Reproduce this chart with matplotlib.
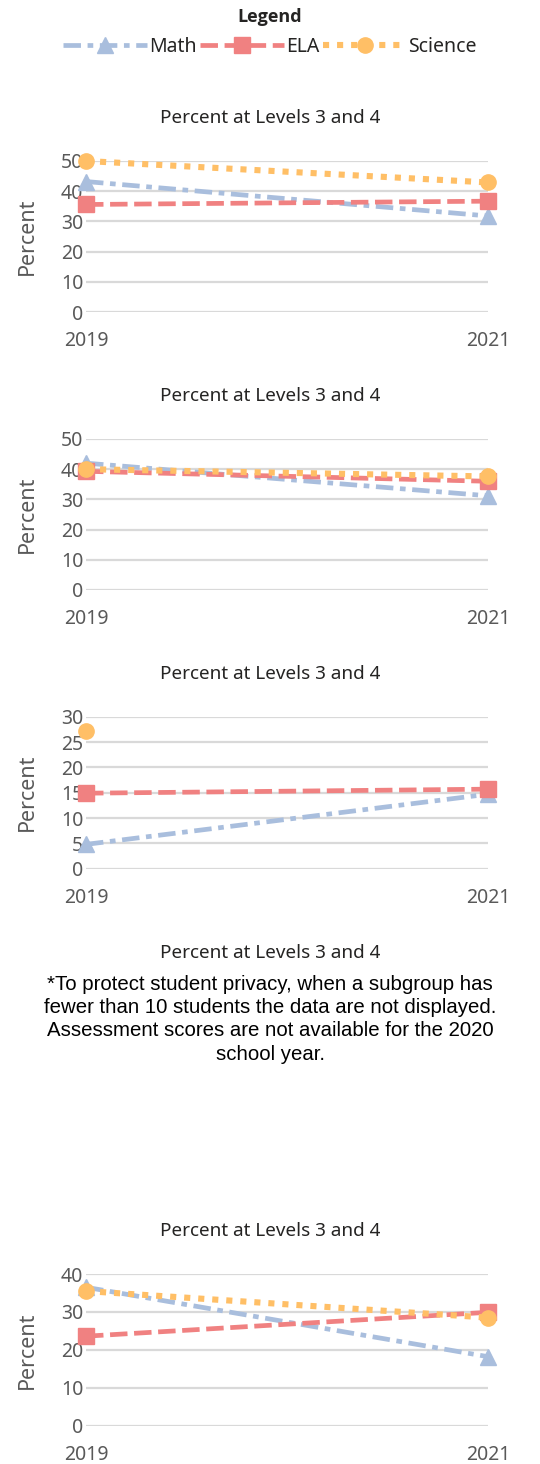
import matplotlib
matplotlib.use("Agg")
import matplotlib.pyplot as plt
from matplotlib.lines import Line2D

# ------------------------------------------------------------
# Donnees
# ------------------------------------------------------------
annees = [2019, 2021]
titre = "Percent at Levels 3 and 4"

math_1 = [43.2, 31.8]
ela_1 = [35.6, 36.7]
sci_1 = [50.0, 42.9]

math_2 = [42.0, 31.2]
ela_2 = [39.3, 36.0]
sci_2 = [40.0, 37.6]

math_3 = [4.8, 14.7]
ela_3 = [14.9, 15.7]
sci_3 = [27.2, None]

math_5 = [36.5, 18.2]
ela_5 = [23.6, 29.9]
sci_5 = [35.5, 28.5]

note = ("*To protect student privacy, when a subgroup has\n"
        "fewer than 10 students the data are not displayed.\n"
        "Assessment scores are not available for the 2020\n"
        "school year.")

# ------------------------------------------------------------
# Style
# ------------------------------------------------------------
W, H = 540, 1464
DPI = 100
plt.rcParams["font.family"] = ["Noto Sans", "DejaVu Sans"]

c_math = "#a9bedd"
c_ela = "#f08181"
c_sci = "#ffbf66"
c_grid = "#d9d9d9"
c_tick = "#595959"

styles = {
    "Math": dict(color=c_math, ls=(0, (3.7, 1.4, 1.2, 1.4)), marker="^", ms=12, lw=3.4),
    "ELA": dict(color=c_ela, ls=(0, (3.7, 1.4)), marker="s", ms=11.5, lw=3.4),
    "Science": dict(color=c_sci, ls=(0, (1.0, 1.3)), marker="o", ms=11, lw=4.4),
}

fig = plt.figure(figsize=(W / DPI, H / DPI), dpi=DPI)


def px_axes(x0, x1, ytop, ybot):
    return fig.add_axes([x0 / W, 1 - ybot / H, (x1 - x0) / W, (ybot - ytop) / H])


def panel(ytop, ybot, ymax, step, series):
    ax = px_axes(86, 488, ytop, ybot)
    for nom, vals in series:
        st = styles[nom]
        xs = [a for a, v in zip(annees, vals) if v is not None]
        ys = [v for v in vals if v is not None]
        ax.plot(xs, ys, color=st["color"], linestyle=st["ls"], lw=st["lw"],
                marker=st["marker"], markersize=st["ms"], clip_on=False,
                dash_capstyle="butt")
    ax.set_xlim(2019, 2021)
    ax.set_ylim(0, ymax)
    ax.set_yticks(range(0, ymax + 1, step))
    ax.set_xticks(annees)
    ax.set_xticklabels([str(a) for a in annees])
    ax.grid(axis="y", color=c_grid, lw=1.6)
    ax.set_axisbelow(True)
    for s in ax.spines.values():
        s.set_visible(False)
    ax.tick_params(axis="both", length=0, labelsize=14, colors=c_tick)
    ax.tick_params(axis="y", pad=2)
    ax.tick_params(axis="x", pad=14)
    ax.set_ylabel("Percent", fontsize=15.5, color=c_tick)
    ax.yaxis.set_label_coords(-48 / 402, 0.5)
    return ax


def titre_px(y):
    fig.text(0.5, 1 - y / H, titre, ha="center", va="center",
             fontsize=13.6, color="#252423")


panel(161, 312, 50, 10, [("Math", math_1), ("ELA", ela_1), ("Science", sci_1)])
titre_px(118)
panel(439, 590, 50, 10, [("Math", math_2), ("ELA", ela_2), ("Science", sci_2)])
titre_px(396)
panel(716.7, 868.7, 30, 5, [("Math", math_3), ("ELA", ela_3), ("Science", sci_3)])
titre_px(674)
titre_px(953)
fig.text(0.5, 1 - 975 / H, note, ha="center", va="top", fontsize=14.7,
         family=["Liberation Sans", "DejaVu Sans"], linespacing=1.28,
         color="black")
panel(1274, 1425.7, 40, 10, [("Math", math_5), ("ELA", ela_5), ("Science", sci_5)])
titre_px(1231)

# Legende
fig.text(0.5, 1 - 17 / H, "Legend", ha="center", va="center", fontsize=13,
         fontweight="bold", family=["Open Sans", "DejaVu Sans"], color="#252423")
handles = [Line2D([], [], color=styles[n]["color"], linestyle=styles[n]["ls"],
                  lw=styles[n]["lw"], marker=styles[n]["marker"],
                  markersize=styles[n]["ms"], dash_capstyle="butt")
           for n in ["Math", "ELA", "Science"]]
leg = fig.legend(handles, ["Math", "ELA", "Science"], loc="center",
                 bbox_to_anchor=(0.5, 1 - 47 / H), ncol=3, frameon=False,
                 fontsize=14, handlelength=4.3, handletextpad=0.1,
                 columnspacing=0.2, numpoints=1, borderpad=0.1)
for t in leg.get_texts():
    t.set_color("#252423")

fig.savefig("out.png", dpi=DPI)
